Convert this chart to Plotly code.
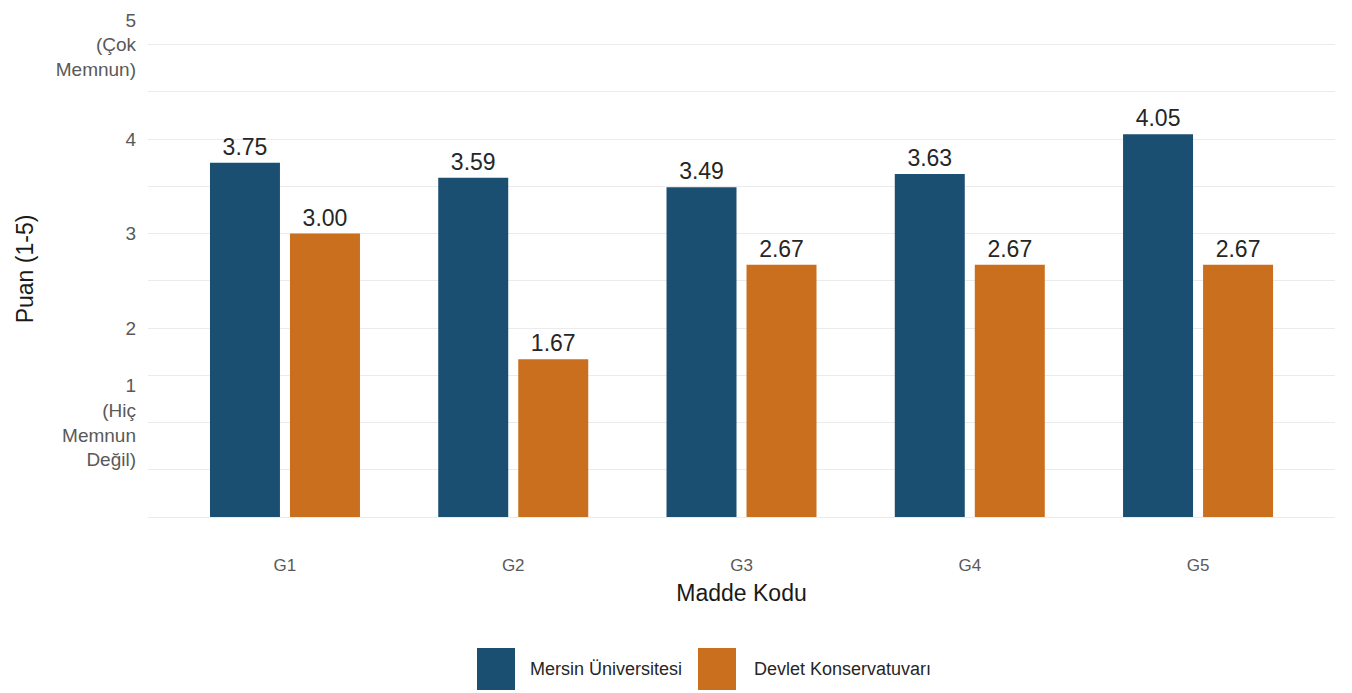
import plotly.graph_objects as go

categories = ["G1", "G2", "G3", "G4", "G5"]
mersin = [3.75, 3.59, 3.49, 3.63, 4.05]
devlet = [3.00, 1.67, 2.67, 2.67, 2.67]
series_names = ["Mersin Üniversitesi", "Devlet Konservatuvarı"]
colors = ["#1B4F72", "#CA6F1E"]
ytick_vals = [1, 2, 3, 4, 5]
ytick_text = ["1<br>(Hiç<br>Memnun<br>Değil)", "2", "3", "4", "5<br>(Çok<br>Memnun)"]

FONT = "Liberation Sans, Arial, sans-serif"
BAR_W = 0.3066
offsets = [-0.3285, 0.022]

# page body has an 8px margin; panel in absolute px: x 148..1335, y 21..517
W, H = 1344, 685
PX0, PX1, PY0, PY1 = 148, 1335, 21, 517

fig = go.Figure()
for vals, name, col, off in zip([mersin, devlet], series_names, colors, offsets):
    fig.add_trace(go.Bar(
        x=categories, y=vals, name=name,
        marker=dict(color=col, line=dict(width=0)),
        width=BAR_W, offset=off,
        text=[f"{v:.2f}" for v in vals], textposition="outside",
        textfont=dict(size=23, color="#262626", family=FONT),
        cliponaxis=False, showlegend=False,
    ))

fig.update_layout(
    barmode="overlay",
    width=W, height=H,
    margin=dict(l=PX0 - 8, r=W + 8 - PX1, t=PY0 - 8, b=H + 8 - PY1),
    plot_bgcolor="white", paper_bgcolor="white",
    font=dict(family=FONT, color="#333333"),
    xaxis=dict(
        range=[-0.6, 4.6], showgrid=False, zeroline=False, showline=False,
        automargin=False,
        tickfont=dict(size=17, color="#595959"), ticks="", ticklabelstandoff=36,
        title=dict(text="Madde Kodu", font=dict(size=23, color="#1a1a1a"), standoff=10),
    ),
    yaxis=dict(
        range=[0, 5.25], tickvals=ytick_vals, ticktext=ytick_text,
        automargin=False,
        showgrid=True, gridcolor="#ebebeb", gridwidth=1.3,
        zeroline=True, zerolinecolor="#ebebeb", zerolinewidth=1.3,
        minor=dict(dtick=0.5, tick0=0, showgrid=True, gridcolor="#ebebeb", gridwidth=1),
        tickfont=dict(size=19, color="#595959"), ticks="", ticklabelstandoff=11,
        title=dict(text="Puan (1-5)", font=dict(size=23, color="#1a1a1a"), standoff=15),
    ),
)

# Legend drawn as large keys below the plot (paper coordinates)
pw, ph = PX1 - PX0, PY1 - PY0
legend_items = [(477, 515, 528), (698, 736, 752)]
for (x0, x1, tx), name, col in zip(legend_items, series_names, colors):
    fig.add_shape(type="rect", xref="paper", yref="paper",
                  x0=(x0 - PX0) / pw, x1=(x1 - PX0) / pw,
                  y0=-(690 - PY1) / ph, y1=-(648 - PY1) / ph,
                  fillcolor=col, line=dict(width=0))
    fig.add_annotation(xref="paper", yref="paper", x=(tx - PX0) / pw,
                       y=-(669 - PY1) / ph, text=name, showarrow=False,
                       xanchor="left", yanchor="middle",
                       font=dict(size=18, color="#262626", family=FONT))

fig.write_html("out.html")
